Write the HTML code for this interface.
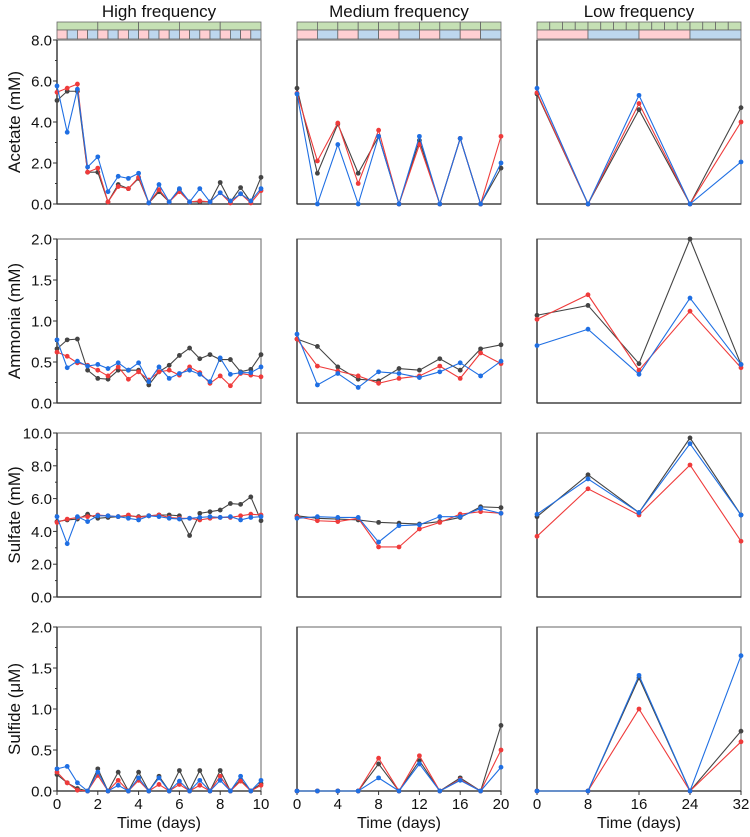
<!DOCTYPE html>
<html><head><meta charset="utf-8"><style>
body{margin:0;background:#fff;}
svg{display:block;font-family:"Liberation Sans",sans-serif;}
</style></head><body>
<svg id="chart" width="750" height="837" viewBox="0 0 750 837" xmlns="http://www.w3.org/2000/svg"></svg>
<script>
const colTitles = ["High frequency","Medium frequency","Low frequency"];
const rowTitles = ["Acetate (mM)","Ammonia (mM)","Sulfate (mM)","Sulfide (μM)"];
const yMax = [8,2,10,2];
const yTickLabels = [["0.0","2.0","4.0","6.0","8.0"],["0.0","0.5","1.0","1.5","2.0"],["0.0","2.0","4.0","6.0","8.0","10.0"],["0.0","0.5","1.0","1.5","2.0"]];
const xMax = [10,20,32];
const xTickLabels = [["0","2","4","6","8","10"],["0","4","8","12","16","20"],["0","8","16","24","32"]];
const xHigh = [0,0.5,1,1.5,2,2.5,3,3.5,4,4.5,5,5.5,6,6.5,7,7.5,8,8.5,9,9.5,10];
const xMed = [0,2,4,6,8,10,12,14,16,18,20];
const xLow = [0,8,16,24,32];
const greenCells = [5,10,16];
const phaseCells = [20,10,4];
// High frequency
const hAcK=[5.05,5.5,5.5,1.55,1.55,0.1,0.95,0.75,1.25,0.05,0.6,0.1,0.7,0.1,0.1,0.1,1.05,0.1,0.8,0.1,1.3];
const hAcR=[5.45,5.65,5.85,1.55,1.75,0.1,0.85,0.75,1.3,0.05,0.7,0.1,0.6,0.1,0.15,0.1,0.55,0.05,0.5,0.05,0.65];
const hAcB=[5.76,3.5,5.6,1.8,2.3,0.6,1.35,1.25,1.5,0.05,0.95,0.1,0.75,0.1,0.75,0.1,0.55,0.15,0.5,0.15,0.75];
const hAmK=[0.66,0.77,0.78,0.4,0.3,0.29,0.4,0.4,0.4,0.22,0.38,0.46,0.58,0.67,0.54,0.59,0.53,0.53,0.38,0.41,0.59];
const hAmR=[0.62,0.57,0.49,0.46,0.4,0.33,0.44,0.29,0.38,0.28,0.38,0.4,0.34,0.44,0.37,0.24,0.33,0.21,0.36,0.34,0.32];
const hAmB=[0.77,0.43,0.51,0.45,0.47,0.42,0.49,0.4,0.49,0.26,0.44,0.3,0.36,0.4,0.35,0.26,0.55,0.35,0.37,0.37,0.44];
const hSoK=[4.6,4.7,4.75,5.05,4.8,4.85,4.9,4.95,4.9,4.95,5.0,5.0,4.95,3.75,5.1,5.2,5.3,5.7,5.65,6.1,4.65];
const hSoR=[4.55,4.75,4.85,4.9,5.0,4.95,4.9,5.0,4.85,4.95,5.0,4.85,4.8,4.8,4.7,4.8,4.85,4.85,4.95,5.05,5.0];
const hSoB=[4.9,3.25,4.9,4.6,4.95,4.95,4.9,4.8,4.7,4.95,4.9,4.8,4.75,4.8,4.85,4.9,4.85,4.9,4.7,4.85,4.9];
const hSuK=[0.2,0.1,0.03,0,0.27,0,0.23,0,0.23,0,0.18,0,0.25,0,0.25,0,0.25,0,0.14,0,0.09];
const hSuR=[0.23,0.1,0.01,0,0.19,0,0.13,0,0.13,0,0.08,0,0.08,0,0.07,0,0.18,0,0.12,0,0.07];
const hSuB=[0.27,0.3,0.1,0,0.23,0,0.07,0,0.16,0,0.16,0,0.12,0,0.13,0,0.13,0,0.18,0,0.13];
// Medium frequency
const mAcK=[5.65,1.5,3.9,1.5,3.3,0,3.1,0,3.2,0,1.75];
const mAcR=[5.4,2.1,3.95,1.0,3.6,0,2.9,0,3.2,0,3.3];
const mAcB=[5.37,0,2.9,0,3.3,0,3.3,0,3.2,0,2.0];
const mAmK=[0.78,0.69,0.44,0.29,0.27,0.42,0.4,0.54,0.4,0.66,0.71];
const mAmR=[0.78,0.45,0.39,0.33,0.24,0.3,0.33,0.45,0.3,0.61,0.48];
const mAmB=[0.84,0.22,0.36,0.19,0.38,0.36,0.31,0.38,0.49,0.33,0.51];
const mSoK=[4.95,4.8,4.75,4.7,4.55,4.5,4.45,4.6,4.85,5.5,5.45];
const mSoR=[4.9,4.65,4.6,4.8,3.05,3.05,4.15,4.55,5.05,5.2,5.1];
const mSoB=[4.8,4.9,4.85,4.85,3.35,4.35,4.4,4.9,4.9,5.4,5.1];
const mSuK=[0,0,0,0,0.33,0,0.37,0,0.16,0,0.8];
const mSuR=[0,0,0,0,0.4,0,0.43,0,0.14,0,0.5];
const mSuB=[0,0,0,0,0.16,0,0.33,0,0.13,0,0.29];
// Low frequency
const lAcK=[5.37,0,4.6,0,4.7];
const lAcR=[5.43,0,4.9,0,4.0];
const lAcB=[5.65,0,5.3,0,2.05];
const lAmK=[1.07,1.19,0.48,2.0,0.47];
const lAmR=[1.02,1.32,0.4,1.12,0.43];
const lAmB=[0.7,0.9,0.35,1.28,0.47];
const lSoK=[4.9,7.45,5.15,9.7,5.0];
const lSoR=[3.7,6.6,5.0,8.05,3.4];
const lSoB=[5.05,7.2,5.15,9.35,5.0];
const lSuK=[0,0,1.38,0,0.73];
const lSuR=[0,0,1.0,0,0.6];
const lSuB=[0,0,1.41,0,1.65];

const svg=document.getElementById('chart');
const NS='http://www.w3.org/2000/svg';
function mk(tag,attrs,parent){const e=document.createElementNS(NS,tag);for(const k in attrs)e.setAttribute(k,attrs[k]);(parent||svg).appendChild(e);return e;}
const colX=[[57,261],[297,501],[537,741]];
const rowY=[[40,204],[239,403],[433,597],[627,791]];
const xs=[xHigh,xMed,xLow];
const data=[
 [[hAcK,hAcR,hAcB],[hAmK,hAmR,hAmB],[hSoK,hSoR,hSoB],[hSuK,hSuR,hSuB]],
 [[mAcK,mAcR,mAcB],[mAmK,mAmR,mAmB],[mSoK,mSoR,mSoB],[mSuK,mSuR,mSuB]],
 [[lAcK,lAcR,lAcB],[lAmK,lAmR,lAmB],[lSoK,lSoR,lSoB],[lSuK,lSuR,lSuB]]];
const colors=['#444444','#ef3b3b','#1f6fe3'];
const sNames=['black','red','blue'];

for(let c=0;c<3;c++){
  const [x0,x1]=colX[c];
  const xScale=v=>x0+v/xMax[c]*(x1-x0);
  const t=mk('text',{x:(x0+x1)/2,y:17,'text-anchor':'middle','font-size':17,fill:'#111'});
  t.textContent=colTitles[c];
  
  
  // header strips
  const gw=(x1-x0)/greenCells[c];
  for(let i=0;i<greenCells[c];i++){
    const r=mk('rect',{x:x0+i*gw,y:22,width:gw,height:8,fill:'#c5e0b4',stroke:'#666','stroke-width':0.8});
    
    
  }
  const pw=(x1-x0)/phaseCells[c];
  for(let i=0;i<phaseCells[c];i++){
    const r=mk('rect',{x:x0+i*pw,y:30,width:pw,height:9,fill:i%2?'#bdd7ee':'#ffcfd2',stroke:'#666','stroke-width':0.8});
    
    
  }
  for(let r=0;r<4;r++){
    const [y0,y1]=rowY[r];
    const yScale=v=>y1-v/yMax[r]*(y1-y0);
    const g=mk('g',{});
    
    
    mk('rect',{x:x0,y:y0,width:x1-x0,height:y1-y0,fill:'none',stroke:'#888','stroke-width':1.3},g);
    mk('line',{x1:x0,y1:y0,x2:x0,y2:y1,stroke:'#333','stroke-width':1.3},g);
    mk('line',{x1:x0,y1:y1,x2:x1,y2:y1,stroke:'#333','stroke-width':1.3},g);
    if(c===0){
      const labs=yTickLabels[r];
      const step=yMax[r]/(labs.length-1);
      labs.forEach((lb,i)=>{
        const yy=yScale(i*step);
        mk('line',{x1:x0-4,y1:yy,x2:x0,y2:yy,stroke:'#333','stroke-width':1},g);
        if(i<labs.length-1){const ym=yScale((i+0.5)*step);mk('line',{x1:x0-2,y1:ym,x2:x0,y2:ym,stroke:'#333','stroke-width':1},g);}
        const tt=mk('text',{x:x0-5,y:yy+5.5,'text-anchor':'end','font-size':15,fill:'#111'},g);
        tt.textContent=lb;
        
        
      });
      const cy=(y0+y1)/2;
      const yt=mk('text',{x:0,y:0,transform:`translate(20,${cy}) rotate(-90)`,'text-anchor':'middle','font-size':17,fill:'#111'},g);
      yt.textContent=rowTitles[r];
      
      
    }
    if(r===3){
      const labs=xTickLabels[c];
      const step=xMax[c]/(labs.length-1);
      labs.forEach((lb,i)=>{
        const xx=xScale(i*step);
        mk('line',{x1:xx,y1:y1,x2:xx,y2:y1+4,stroke:'#333','stroke-width':1},g);
        const tt=mk('text',{x:xx,y:y1+18,'text-anchor':'middle','font-size':15,fill:'#111'},g);
        tt.textContent=lb;
        
        
      });
      const xt=mk('text',{x:(x0+x1)/2,y:y1+37,'text-anchor':'middle','font-size':16,fill:'#111'},g);
      xt.textContent='Time (days)';
      
      
    }
    data[c][r].forEach((vals,s)=>{
      const pts=vals.map((v,i)=>xScale(xs[c][i])+','+yScale(v)).join(' ');
      const pl=mk('polyline',{points:pts,fill:'none',stroke:colors[s],'stroke-width':1.1},g);
      
      
      vals.forEach((v,i)=>{
        const pt=mk('circle',{cx:xScale(xs[c][i]),cy:yScale(v),r:2.4,fill:colors[s]},g);
        
        
      });
    });
  }
}
</script>
</body></html>
